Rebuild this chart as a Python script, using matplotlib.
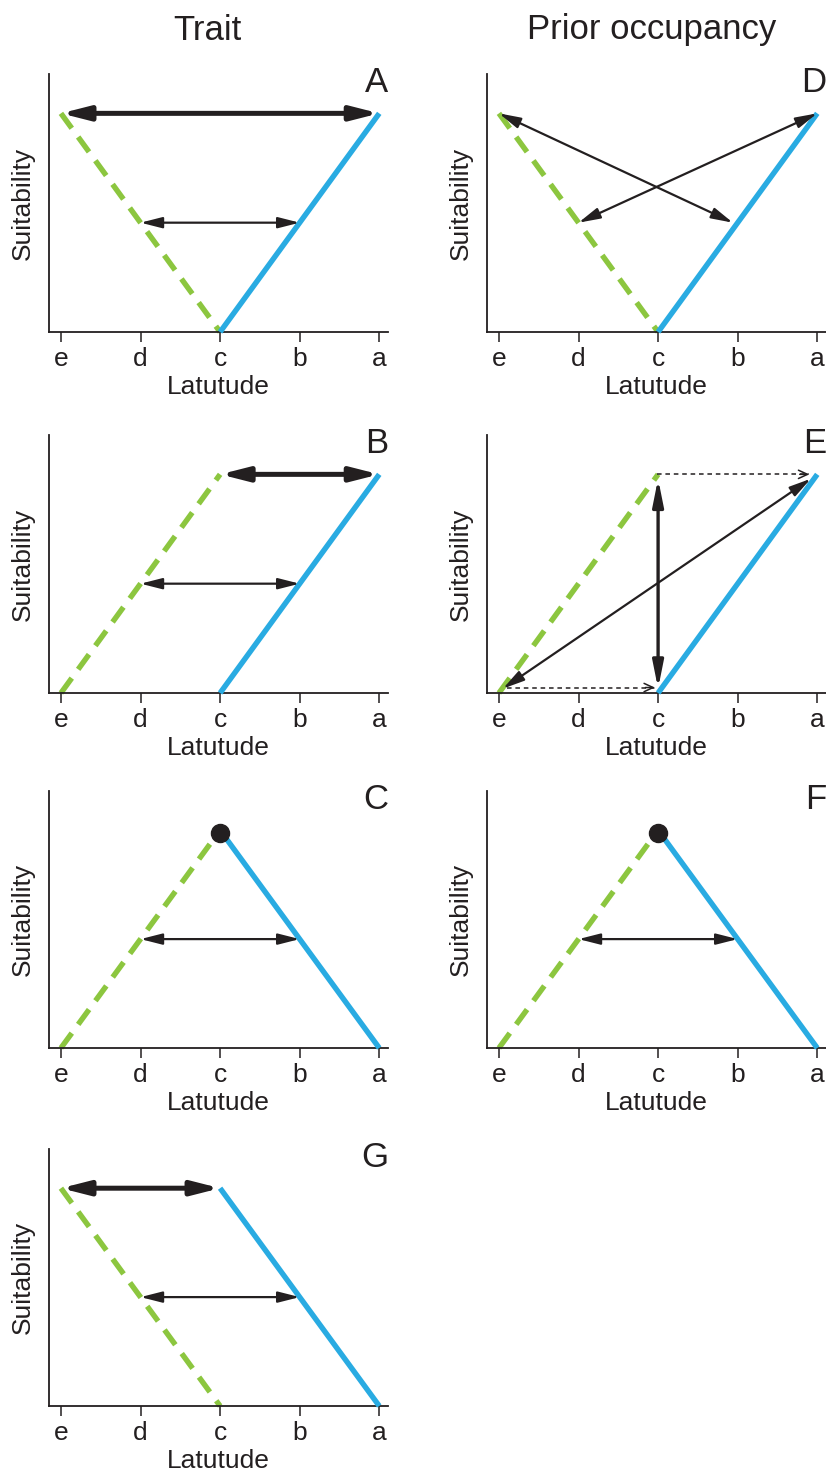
import matplotlib
matplotlib.use('Agg')
from matplotlib import pyplot as plt

plt.rcParams['font.family'] = ['Liberation Sans', 'DejaVu Sans']

# latitude positions, e..a
lat_labels = ['e', 'd', 'c', 'b', 'a']
lat_pos = [0, 1, 2, 3, 4]

# green (dashed) always spans e..c, blue (solid) always c..a
green_x = [0, 2]
blue_x = [2, 4]
green_y = {'A': [2, 0], 'B': [0, 2], 'C': [0, 2], 'G': [2, 0],
           'D': [2, 0], 'E': [0, 2], 'F': [0, 2]}
blue_y = {'A': [0, 2], 'B': [0, 2], 'C': [2, 0], 'G': [2, 0],
          'D': [0, 2], 'E': [0, 2], 'F': [2, 0]}

# arrows: x0, y0, x1, y1, kind
arrows = {
    'A': [(0, 2, 4, 2, 'thick'), (1, 1, 3, 1, 'thin')],
    'B': [(2, 2, 4, 2, 'thick'), (1, 1, 3, 1, 'thin')],
    'C': [(1, 1, 3, 1, 'thin')],
    'G': [(0, 2, 2, 2, 'thick'), (1, 1, 3, 1, 'thin')],
    'D': [(0, 2, 2.94, 1, 'thin'), (1, 1, 4, 2, 'thin')],
    'E': [(2, 1.96, 2, 0.04, 'mid'), (0.05, 0.04, 3.92, 1.96, 'thin'),
          (1.98, 2, 3.9, 2, 'dash'), (0.1, 0.05, 1.96, 0.05, 'dash')],
    'F': [(1, 1, 3, 1, 'thin')],
}
peaks = {'C': (2, 1.97), 'F': (2, 1.97)}

headings = ['Trait', 'Prior occupancy']

blue = '#29abe2'
green = '#8cc63f'
black = '#231f20'

arrow_styles = {
    'thick': dict(arrowstyle='<|-|>,head_length=1.65,head_width=0.42', lw=3.6, mutation_scale=10),
    'thin': dict(arrowstyle='<|-|>,head_length=1.3,head_width=0.33', lw=1.6, mutation_scale=10),
    'mid': dict(arrowstyle='<|-|>,head_length=1.6,head_width=0.32', lw=2.4, mutation_scale=10),
}

W, H = 826, 1471
fig = plt.figure(figsize=(W / 100, H / 100), dpi=100)

col_left = [49, 487]
ax_w = 339
rows = [(74, 332), (435, 693), (791, 1048), (1149, 1406)]
layout = {'A': (0, 0), 'B': (1, 0), 'C': (2, 0), 'G': (3, 0),
          'D': (0, 1), 'E': (1, 1), 'F': (2, 1)}

for letter, (r, c) in layout.items():
    top, bot = rows[r]
    ax = fig.add_axes([col_left[c] / W, 1 - bot / H, ax_w / W, (bot - top) / H])
    ax.set_xlim(-0.15, 4.11)
    ax.set_ylim(0, 2.36)
    for s in ['top', 'right']:
        ax.spines[s].set_visible(False)
    for s in ['left', 'bottom']:
        ax.spines[s].set_linewidth(1.3)
        ax.spines[s].set_color(black)
    ax.set_xticks(lat_pos, lat_labels)
    ax.set_yticks([])
    ax.tick_params(axis='x', direction='out', length=7, width=1.1, pad=4,
                   labelsize=19, colors=black)
    ax.set_xlabel('Latutude', fontsize=19, labelpad=3, color=black)
    ax.set_ylabel('Suitability', fontsize=19, labelpad=10, color=black)

    ax.plot(green_x, green_y[letter], color=green, lw=3.9, dashes=(3.4, 2.0),
            solid_capstyle='butt', dash_capstyle='butt', clip_on=False, zorder=2)
    ax.plot(blue_x, blue_y[letter], color=blue, lw=3.9, solid_capstyle='butt',
            clip_on=False, zorder=3)

    for x0, y0, x1, y1, kind in arrows[letter]:
        if kind == 'dash':
            ax.plot([x0, x1], [y0, y1], color=black, lw=1.1, dashes=(3, 2.5), zorder=4)
            ax.annotate('', xy=(x1, y1), xytext=(x1 - 0.12, y1),
                        arrowprops=dict(arrowstyle='->,head_length=0.65,head_width=0.3',
                                        lw=1.1, color=black, mutation_scale=10,
                                        shrinkA=0, shrinkB=0), zorder=4)
        else:
            props = dict(arrow_styles[kind])
            props.update(color=black, shrinkA=0, shrinkB=0)
            ax.annotate('', xy=(x1, y1), xytext=(x0, y0), arrowprops=props, zorder=4)

    if letter in peaks:
        px, py = peaks[letter]
        ax.plot(px, py, 'o', color=black, markersize=13, clip_on=False, zorder=5)

    ax.text(1.0, 1.03, letter, transform=ax.transAxes, ha='right', va='top',
            fontsize=25, color=black)

fig.text(207 / W, 1 - 30 / H, headings[0], ha='center', va='center', fontsize=25, color=black)
fig.text(652 / W, 1 - 30 / H, headings[1], ha='center', va='center', fontsize=25, color=black)

plt.savefig('out.png', dpi=100)
